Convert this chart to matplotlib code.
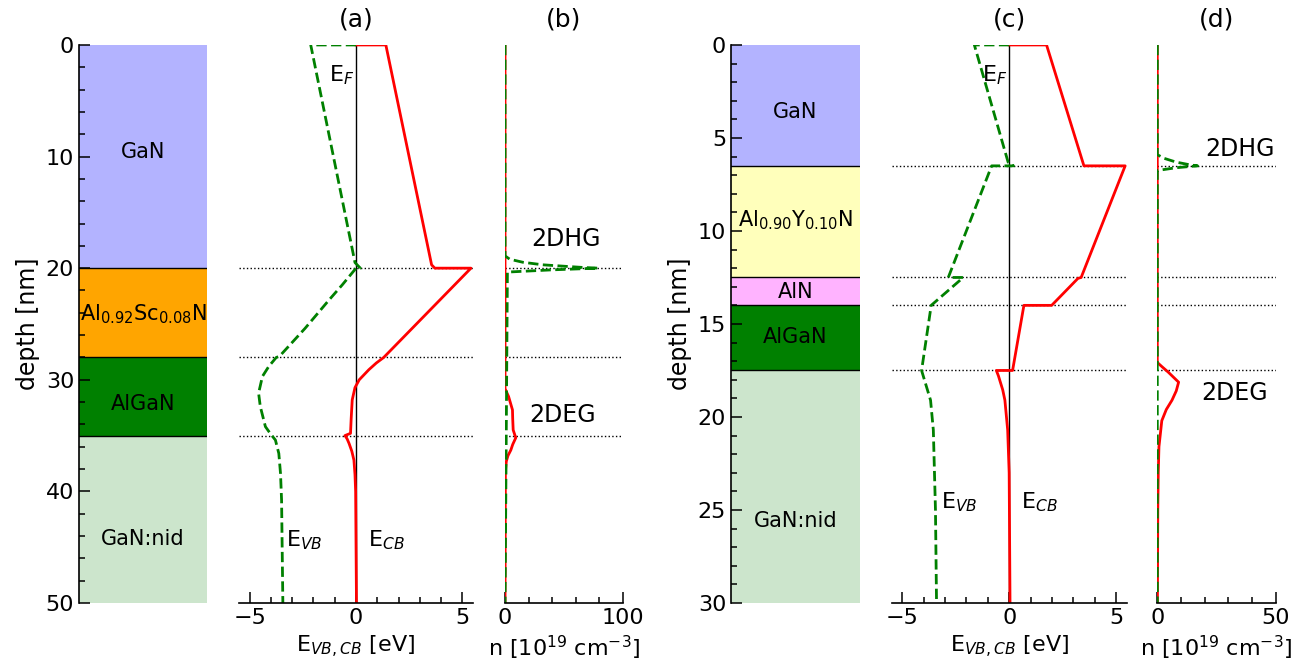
# coding: utf-8
# зонные диаграммы и концентрации носителей для двух гетероструктур
import numpy as np
import matplotlib
matplotlib.use('Agg')
import matplotlib.pyplot as plt
from matplotlib.ticker import MultipleLocator

# --- структура 1: GaN / AlScN / AlGaN / GaN:nid ---
layers_1 = ['GaN', r'Al$_{0.92}$Sc$_{0.08}$N', 'AlGaN', 'GaN:nid']
bounds_1 = [0, 20, 28, 35, 50]
label_y_1 = [9.6, 24.1, 32.2, 44.3]
colors_1 = ['#b3b3ff', '#ffa500', '#008000', '#cce5cc']

# зона проводимости (a)
depth_cb_a = [0, 0, 19.7, 20.0, 20.0, 28.0, 28.5, 29.1, 30.0, 30.7, 31.8, 33.5, 34.8,
              35.0, 35.3, 35.7, 36.4, 37.2, 38.5, 40.0, 45.0, 50.0]
e_cb_a = [0, 1.4, 3.55, 3.7, 5.4, 1.3, 0.95, 0.6, 0.15, -0.05, -0.18, -0.23, -0.26,
          -0.52, -0.42, -0.33, -0.2, -0.1, -0.05, -0.02, 0.0, 0.02]
# валентная зона (a)
depth_vb_a = [0, 0, 19.5, 20.0, 20.0, 21.5, 22.85, 25.4, 27.9, 28.0, 28.8, 29.7, 31.2,
              32.4, 34.2, 34.9, 35.4, 36.6, 38.4, 40.8, 50.0]
e_vb_a = [0, -2.13, -0.05, 0.2, 0.0, -0.65, -1.27, -2.4, -3.6, -3.75, -4.1, -4.4, -4.58,
          -4.5, -4.26, -4.0, -3.79, -3.63, -3.55, -3.5, -3.44]

# концентрации (b)
depth_n_a = [0, 30.8, 31.5, 32.7, 33.5, 34.5, 35.2, 35.8, 36.3, 36.8, 37.3, 38.2, 50]
n_e_a = [0, 0, 3.0, 6.3, 6.5, 6.9, 9.1, 6.5, 4.9, 2.5, 1.1, 0.3, 0]
depth_p_a = [0, 18.9, 19.2, 19.47, 19.7, 19.82, 19.93, 20.0, 20.15, 20.35, 50]
n_h_a = [0, 0, 4, 15, 32, 49, 65, 79, 40, 2, 0]

# --- структура 2: GaN / AlYN / AlN / AlGaN / GaN:nid ---
layers_2 = ['GaN', r'Al$_{0.90}$Y$_{0.10}$N', 'AlN', 'AlGaN', 'GaN:nid']
bounds_2 = [0, 6.5, 12.5, 14.0, 17.5, 30]
label_y_2 = [3.6, 9.4, 13.3, 15.7, 25.6]
colors_2 = ['#b3b3ff', '#ffffbb', '#ffb3ff', '#008000', '#cce5cc']

# зона проводимости (c)
depth_cb_c = [0, 0, 6.5, 6.5, 12.5, 12.55, 14.0, 14.0, 17.5, 17.5, 17.8, 18.55, 19.1,
              20.7, 23.0, 30.0]
e_cb_c = [0, 1.75, 3.5, 5.43, 3.37, 3.22, 1.99, 0.69, 0.16, -0.6, -0.5, -0.3, -0.2,
          -0.07, 0.0, 0.04]
# валентная зона (c)
depth_vb_c = [0, 0, 6.3, 6.5, 6.5, 12.5, 12.5, 14.0, 17.5, 19.1, 20.7, 25.0, 30.0]
e_vb_c = [0, -1.63, -0.05, 0.2, -0.82, -2.85, -2.15, -3.65, -4.1, -3.68, -3.55, -3.45, -3.4]

# концентрации (d)
depth_n_c = [0, 17.07, 17.3, 17.6, 18.13, 18.6, 19.1, 19.6, 20.2, 21.6, 23.0, 25.0, 30]
n_e_c = [0, 0, 2.0, 4.7, 9.0, 8.0, 6.2, 3.8, 1.9, 0.7, 0.4, 0.2, 0.05]
depth_p_c = [0, 5.9, 6.1, 6.3, 6.45, 6.5, 6.6, 6.75, 30]
n_h_c = [0, 0, 3, 8, 14, 17, 8, 0, 0]

plt.rcParams['font.family'] = 'DejaVu Sans'
plt.rcParams['mathtext.fontset'] = 'dejavusans'

fig = plt.figure(figsize=(13.04, 6.67), dpi=100)
bottom, height = 0.0960, 0.8366


def style(ax, spine):
    for s in ['left', 'right', 'top', 'bottom']:
        ax.spines[s].set_visible(s == spine)
    ax.spines[spine].set_linewidth(1.2)
    ax.tick_params(which='both', direction='in', width=1.1, labelsize=16)
    ax.tick_params(which='major', length=8)
    ax.tick_params(which='minor', length=4.5)


def structure(rect, layers, bounds, label_y, colors, major, minor):
    ax = fig.add_axes(rect)
    for i, name in enumerate(layers):
        ax.axhspan(bounds[i], bounds[i + 1], color=colors[i], lw=0)
        if i > 0:
            ax.axhline(bounds[i], color='k', lw=1)
        ax.text(0.5, label_y[i], name, ha='center', va='center', fontsize=15)
    ax.set_xlim(0, 1)
    ax.set_ylim(bounds[-1], bounds[0])
    style(ax, 'left')
    ax.set_xticks([])
    ax.yaxis.set_major_locator(MultipleLocator(major))
    ax.yaxis.set_minor_locator(MultipleLocator(minor))
    ax.set_ylabel('depth [nm]', fontsize=17)
    return ax


def bands(rect, title, depth_cb, e_cb, depth_vb, e_vb, bounds, lbl):
    ax = fig.add_axes(rect)
    ax.axvline(0, color='k', lw=1)
    for y in bounds[1:-1]:
        ax.axhline(y, color='k', ls=':', lw=1)
    ax.plot(e_cb, depth_cb, 'r-', lw=2)
    ax.plot(e_vb, depth_vb, color='green', ls='--', lw=2)
    ax.set_xlim(-5.5, 5.5)
    ax.set_ylim(bounds[-1], bounds[0])
    style(ax, 'bottom')
    ax.set_yticks([])
    ax.xaxis.set_major_locator(MultipleLocator(5))
    ax.xaxis.set_minor_locator(MultipleLocator(1))
    ax.set_xlabel(r'E$_{VB,CB}$ [eV]', fontsize=16)
    ax.set_title(title, fontsize=18, pad=13)
    ax.text(-0.08, lbl[0], r'E$_F$', ha='right', va='center', fontsize=16)
    ax.text(lbl[1], lbl[2], r'E$_{VB}$', ha='left', va='center', fontsize=16)
    ax.text(0.55, lbl[2], r'E$_{CB}$', ha='left', va='center', fontsize=16)
    return ax


def density(rect, title, depth_n, n_e, depth_p, n_h, bounds, xmax, txt):
    ax = fig.add_axes(rect)
    for y in bounds[1:-1]:
        ax.axhline(y, color='k', ls=':', lw=1)
    ax.plot(n_e, depth_n, 'r-', lw=2)
    ax.plot(n_h, depth_p, color='green', ls='--', lw=2)
    ax.set_xlim(0, xmax)
    ax.set_ylim(bounds[-1], bounds[0])
    style(ax, 'bottom')
    ax.set_yticks([])
    ax.set_xticks([0, xmax])
    ax.xaxis.set_minor_locator(MultipleLocator(xmax / 5))
    ax.set_xlabel(r'n [10$^{19}$ cm$^{-3}$]', fontsize=16)
    ax.set_title(title, fontsize=18, pad=13)
    ax.text(txt[0], txt[1], '2DHG', ha='center', va='center', fontsize=17)
    ax.text(txt[2], txt[3], '2DEG', ha='center', va='center', fontsize=17)
    return ax


structure([0.0606, bottom, 0.0982, height], layers_1, bounds_1, label_y_1, colors_1, 10, 2)
bands([0.1833, bottom, 0.1795, height], '(a)', depth_cb_a, e_cb_a, depth_vb_a, e_vb_a,
      bounds_1, (2.7, -3.3, 44.4))
density([0.3873, bottom, 0.0905, height], '(b)', depth_n_a, n_e_a, depth_p_a, n_h_a,
        bounds_1, 100, (52, 17.4, 49, 33.2))

structure([0.5606, bottom, 0.0989, height], layers_2, bounds_2, label_y_2, colors_2, 5, 1)
bands([0.6838, bottom, 0.1802, height], '(c)', depth_cb_c, e_cb_c, depth_vb_c, e_vb_c,
      bounds_2, (1.6, -3.2, 24.6))
density([0.8875, bottom, 0.0908, height], '(d)', depth_n_c, n_e_c, depth_p_c, n_h_c,
        bounds_2, 50, (35, 5.6, 32.5, 18.7))

fig.savefig('out.png', dpi=100)
